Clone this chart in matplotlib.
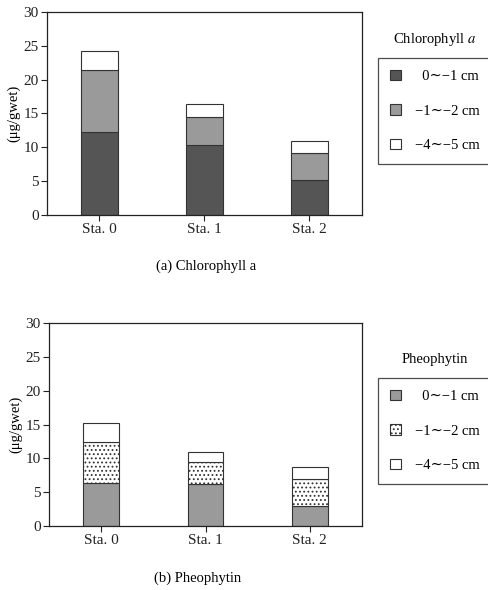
import numpy as np
import matplotlib
matplotlib.use('Agg')
import matplotlib.pyplot as plt
from matplotlib.patches import Patch

plt.rcParams['font.family'] = ['Liberation Serif', 'DejaVu Serif']
plt.rcParams['mathtext.fontset'] = 'stix'
plt.rcParams['hatch.linewidth'] = 0.8

stations = ['Sta. 0', 'Sta. 1', 'Sta. 2']
layers = ['0\u223c\u22121 cm', '\u22121\u223c\u22122 cm', '\u22124\u223c\u22125 cm']

# layer contributions (ug/gwet)
chl_0_1 = [12.3, 10.3, 5.2]
chl_1_2 = [9.2, 4.2, 4.0]
chl_4_5 = [2.8, 1.9, 1.8]

pheo_0_1 = [6.4, 6.2, 3.0]
pheo_1_2 = [6.0, 3.3, 3.9]
pheo_4_5 = [2.8, 1.5, 1.8]

FS = 11

fig = plt.figure(figsize=(4.89, 5.9), dpi=100)

def stacked(ax, series, styles):
    x = np.arange(len(stations))
    bottom = np.zeros(len(stations))
    for vals, st in zip(series, styles):
        ax.bar(x, vals, width=0.345, bottom=bottom, color=st['fc'], hatch=st.get('hatch'),
               edgecolor='#333333', linewidth=0.8)
        bottom += np.array(vals)
    ax.set_xlim(-0.5, 2.5)
    ax.set_ylim(0, 30)
    ax.set_yticks(range(0, 31, 5))
    ax.set_xticks(x)
    ax.set_xticklabels(stations)
    ax.tick_params(direction='out', length=4, width=0.8, labelsize=FS, pad=2, colors='#222222')
    for s in ax.spines.values():
        s.set_linewidth(0.9)
        s.set_color('#222222')
    ax.set_ylabel('(\u03bcg/gwet)', fontsize=FS - 0.5, labelpad=2)

def add_legend(styles, y0, title):
    handles = [Patch(facecolor=st['fc'], hatch=st.get('hatch'), edgecolor='#333333', linewidth=0.8)
               for st in styles]
    labels = ['  ' + layers[0], layers[1], layers[2]]
    # box runs off the right edge, like the scan
    leg = fig.legend(handles, labels, loc='upper left',
                     bbox_to_anchor=(378 / 489, 1 - y0 / 590, 160 / 489, 0), mode='expand',
                     fontsize=FS - 0.5, frameon=True, fancybox=False, edgecolor='#222222',
                     labelspacing=1.45, borderpad=0.8, handlelength=0.75, handleheight=0.75,
                     handletextpad=1.0, borderaxespad=0)
    leg.get_frame().set_linewidth(0.9)
    fig.text(435 / 489, 1 - (y0 - 18) / 590, title, ha='center', va='center', fontsize=FS - 0.5)

# (a) chlorophyll a
styles_a = [{'fc': '#555555'}, {'fc': '#9a9a9a'}, {'fc': 'white'}]
ax1 = fig.add_axes([47 / 489, 1 - 215 / 590, 315 / 489, 203 / 590])
stacked(ax1, [chl_0_1, chl_1_2, chl_4_5], styles_a)
add_legend(styles_a, 58, 'Chlorophyll $\\mathit{a}$')
fig.text(206 / 489, 1 - 266 / 590, '(a) Chlorophyll a', ha='center', va='center', fontsize=FS - 0.5)

# (b) pheophytin
styles_b = [{'fc': '#9a9a9a'}, {'fc': 'white', 'hatch': '....'}, {'fc': 'white'}]
ax2 = fig.add_axes([49 / 489, 1 - 526 / 590, 313 / 489, 203 / 590])
stacked(ax2, [pheo_0_1, pheo_1_2, pheo_4_5], styles_b)
add_legend(styles_b, 378, 'Pheophytin')
fig.text(198 / 489, 1 - 578 / 590, '(b) Pheophytin', ha='center', va='center', fontsize=FS - 0.5)

plt.savefig('out.png', dpi=100)
